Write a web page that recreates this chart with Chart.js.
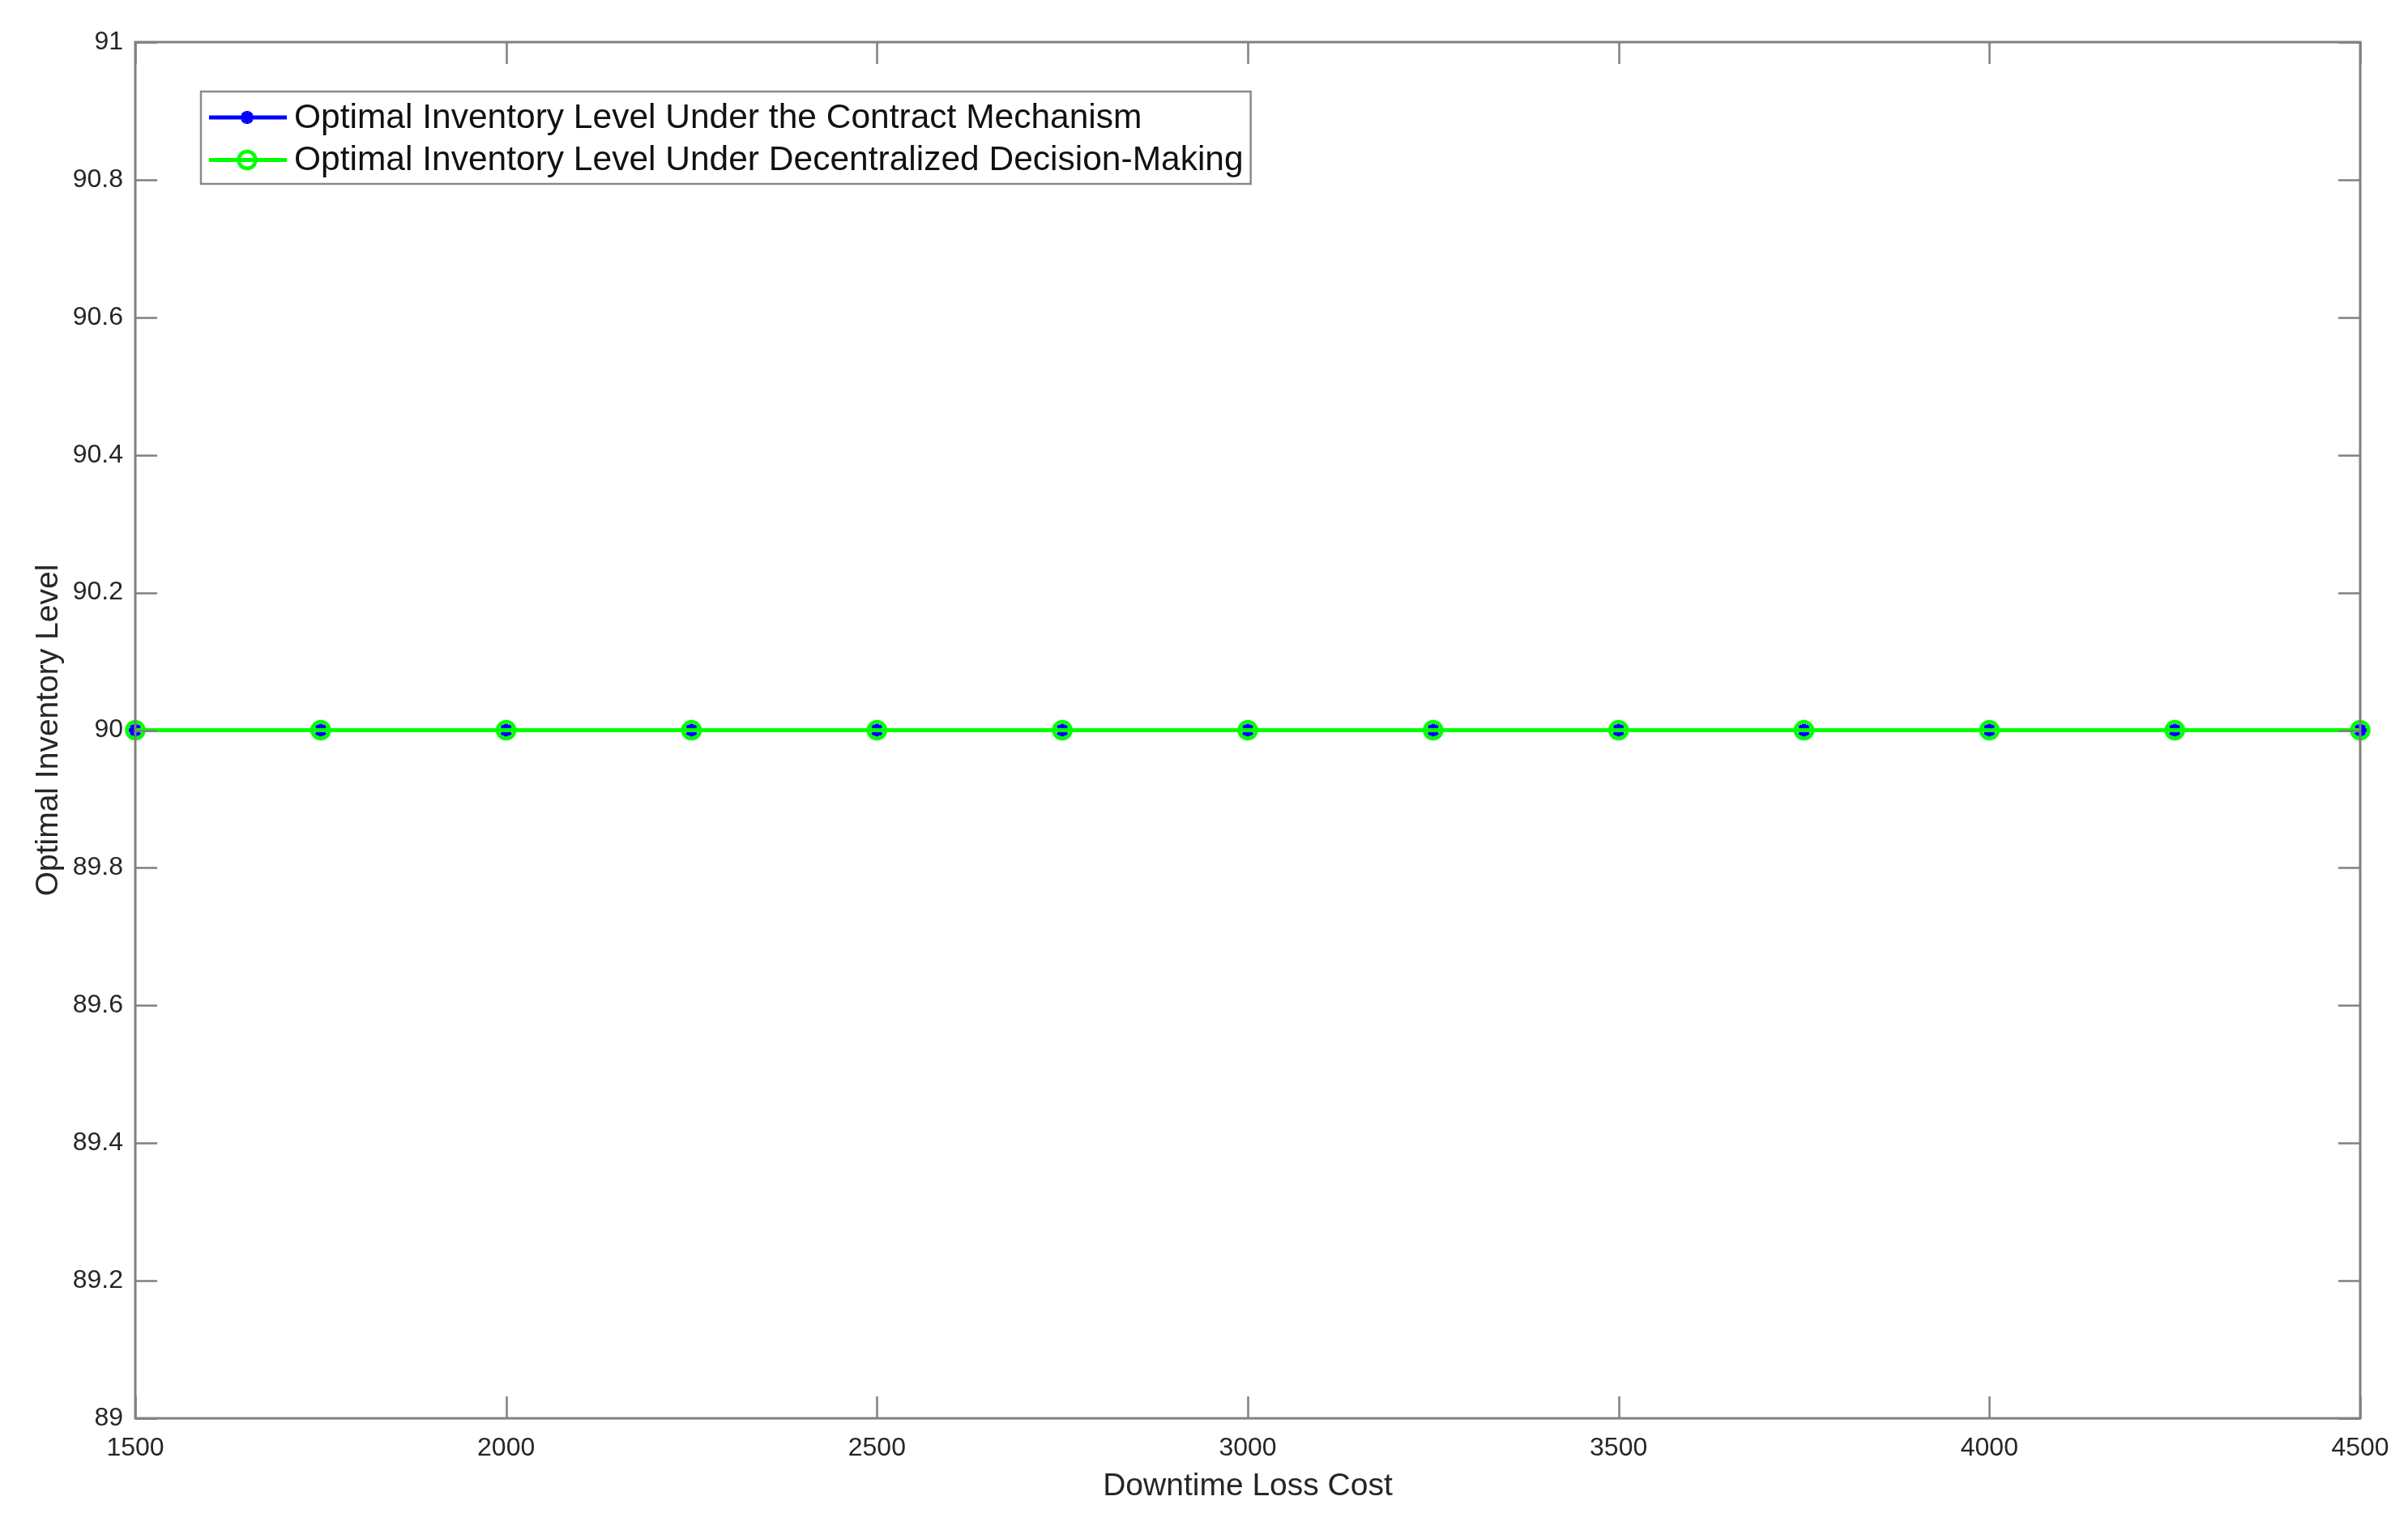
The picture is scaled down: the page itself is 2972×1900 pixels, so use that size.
<!DOCTYPE html>
<html>
<head>
<meta charset="utf-8">
<script src="https://cdn.jsdelivr.net/npm/chart.js@4/dist/chart.umd.min.js"></script>
<style>
  html, body { margin: 0; padding: 0; background: #ffffff; }
  #wrap { width: 2972px; height: 1900px; }
</style>
</head>
<body>
<div id="wrap"><canvas id="c" width="2972" height="1900"></canvas></div>
<script>
// ---- data ----
const downtimeCost = [1500, 1750, 2000, 2250, 2500, 2750, 3000, 3250, 3500, 3750, 4000, 4250, 4500];
const contractLevel = [90, 90, 90, 90, 90, 90, 90, 90, 90, 90, 90, 90, 90];
const decentralizedLevel = [90, 90, 90, 90, 90, 90, 90, 90, 90, 90, 90, 90, 90];
const seriesNames = [
  'Optimal Inventory Level Under the Contract Mechanism',
  'Optimal Inventory Level Under Decentralized Decision-Making'
];
const xTicks = [1500, 2000, 2500, 3000, 3500, 4000, 4500];
const xTickLabels = ['1500', '2000', '2500', '3000', '3500', '4000', '4500'];
const yTicks = [89, 89.2, 89.4, 89.6, 89.8, 90, 90.2, 90.4, 90.6, 90.8, 91];
const yTickLabels = ['89', '89.2', '89.4', '89.6', '89.8', '90', '90.2', '90.4', '90.6', '90.8', '91'];
const xTitle = 'Downtime Loss Cost';
const yTitle = 'Optimal Inventory Level';

const FONT = '"Liberation Sans", Arial, Helvetica, sans-serif';
const AXIS_COLOR = '#808080';
const TEXT_COLOR = '#262626';

const toPoints = (xs, ys) => xs.map((x, i) => ({ x: x, y: ys[i] }));

// inward ticks on all four sides + full box
const frameTicks = {
  id: 'frameTicks',
  afterDatasetsDraw(chart) {
    const { ctx, chartArea: a, scales } = chart;
    const len = 27;
    ctx.save();
    ctx.strokeStyle = AXIS_COLOR;
    ctx.lineWidth = 2.5;
    ctx.beginPath();
    scales.x.ticks.forEach(t => {
      const px = Math.round(scales.x.getPixelForValue(t.value)) + 0.5;
      ctx.moveTo(px, a.bottom); ctx.lineTo(px, a.bottom - len);
      ctx.moveTo(px, a.top); ctx.lineTo(px, a.top + len);
    });
    scales.y.ticks.forEach(t => {
      const py = Math.round(scales.y.getPixelForValue(t.value)) + 0.5;
      ctx.moveTo(a.left, py); ctx.lineTo(a.left + len, py);
      ctx.moveTo(a.right, py); ctx.lineTo(a.right - len, py);
    });
    ctx.stroke();
    ctx.lineWidth = 3;
    ctx.strokeRect(a.left, a.top, a.right - a.left, a.bottom - a.top);
    ctx.restore();
  }
};

// legend box inside the plot area (upper left)
const innerLegend = {
  id: 'innerLegend',
  afterDraw(chart) {
    const { ctx, chartArea: a } = chart;
    const left = a.left + 81, top = a.top + 61;
    const fontSize = 42.5;
    ctx.save();
    ctx.font = fontSize + 'px ' + FONT;
    const dsList = chart.data.datasets.slice().sort((p, q) => p.legendIndex - q.legendIndex);
    let maxW = 0;
    dsList.forEach(ds => { maxW = Math.max(maxW, ctx.measureText(ds.label).width); });
    const textX = left + 115;
    const w = textX + maxW + 9 - left;
    const h = 114;
    ctx.fillStyle = '#ffffff';
    ctx.fillRect(left, top, w, h);
    ctx.strokeStyle = '#8a8a8a';
    ctx.lineWidth = 2.5;
    ctx.strokeRect(left, top, w, h);
    dsList.forEach((ds, i) => {
      const y = top + 32 + i * 52.5;
      const cx = left + 57;
      ctx.strokeStyle = ds.borderColor;
      ctx.lineWidth = 5;
      ctx.beginPath();
      ctx.moveTo(left + 10, y); ctx.lineTo(left + 106, y);
      ctx.stroke();
      ctx.strokeStyle = ds.pointBorderColor;
      ctx.lineWidth = ds.pointBorderWidth;
      ctx.beginPath();
      if (ds.pointStyle === 'circle') {
        ctx.arc(cx, y, ds.pointRadius, 0, Math.PI * 2);
      } else {
        const r = ds.pointRadius;
        for (let k = 0; k < 4; k++) {
          const ang = k * Math.PI / 4;
          ctx.moveTo(cx - Math.cos(ang) * r, y - Math.sin(ang) * r);
          ctx.lineTo(cx + Math.cos(ang) * r, y + Math.sin(ang) * r);
        }
      }
      ctx.stroke();
      ctx.fillStyle = '#111111';
      ctx.textBaseline = 'middle';
      ctx.textAlign = 'left';
      ctx.fillText(ds.label, textX, y + 1);
    });
    ctx.restore();
  }
};

new Chart(document.getElementById('c'), {
  type: 'line',
  data: {
    datasets: [
      {
        label: seriesNames[0],
        legendIndex: 0,
        data: toPoints(downtimeCost, contractLevel),
        borderColor: '#0000ff',
        backgroundColor: '#0000ff',
        borderWidth: 5,
        pointStyle: 'star',
        pointRadius: 8,
        pointBorderWidth: 5,
        pointBorderColor: '#0000ff',
        pointBackgroundColor: '#0000ff',
        order: 1,
        clip: false,
        tension: 0
      },
      {
        label: seriesNames[1],
        legendIndex: 1,
        data: toPoints(downtimeCost, decentralizedLevel),
        borderColor: '#00ff00',
        backgroundColor: 'rgba(0,0,0,0)',
        borderWidth: 5,
        pointStyle: 'circle',
        pointRadius: 10.5,
        pointBorderWidth: 4.5,
        pointBorderColor: '#00ff00',
        pointBackgroundColor: 'rgba(0,0,0,0)',
        order: 0,
        clip: false,
        tension: 0
      }
    ]
  },
  options: {
    responsive: false,
    animation: false,
    devicePixelRatio: 1,
    layout: { padding: { top: 52, right: 59, bottom: 0, left: 0 } },
    plugins: {
      legend: { display: false },
      tooltip: { enabled: false },
      title: { display: false }
    },
    scales: {
      x: {
        type: 'linear',
        min: 1500,
        max: 4500,
        afterBuildTicks: s => { s.ticks = xTicks.map(v => ({ value: v })); },
        afterFit: s => { s.height = 149; },
        grid: { display: false, drawTicks: false },
        border: { display: false },
        ticks: {
          padding: 18,
          color: TEXT_COLOR,
          font: { family: FONT, size: 32 },
          maxRotation: 0,
          autoSkip: false,
          callback: (v, i) => xTickLabels[i]
        },
        title: {
          display: true,
          text: xTitle,
          color: TEXT_COLOR,
          font: { family: FONT, size: 39 },
          padding: { top: 0, bottom: 41 }
        }
      },
      y: {
        type: 'linear',
        min: 89,
        max: 91,
        afterBuildTicks: s => { s.ticks = yTicks.map(v => ({ value: v })); },
        afterFit: s => { s.width = 167; },
        grid: { display: false, drawTicks: false },
        border: { display: false },
        ticks: {
          padding: 15,
          color: TEXT_COLOR,
          font: { family: FONT, size: 32 },
          autoSkip: false,
          callback: (v, i) => yTickLabels[i]
        },
        title: {
          display: true,
          text: yTitle,
          color: TEXT_COLOR,
          font: { family: FONT, size: 39 },
          padding: { top: 37, bottom: 0 }
        }
      }
    }
  },
  plugins: [frameTicks, innerLegend]
});
</script>
</body>
</html>
